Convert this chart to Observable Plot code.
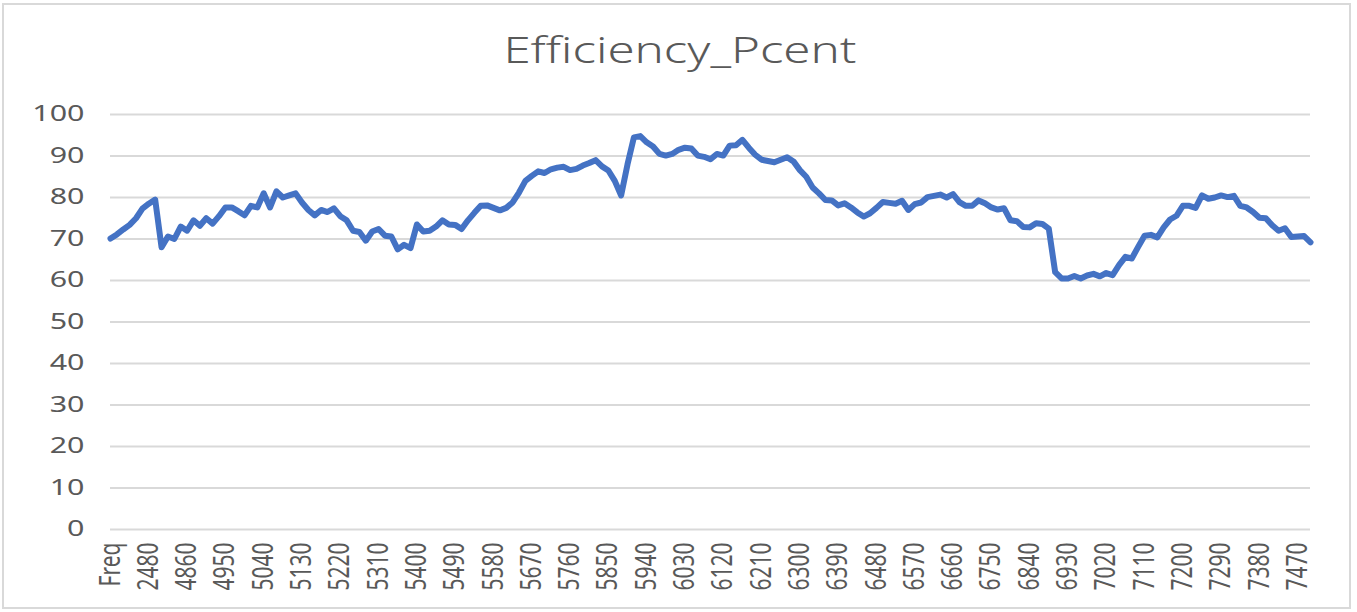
<!DOCTYPE html>
<html>
<head>
<meta charset="utf-8">
<script src="https://cdn.jsdelivr.net/npm/d3@7"></script>
<script src="https://cdn.jsdelivr.net/npm/@observablehq/plot@0.6"></script>
<style>
  html, body { margin: 0; padding: 0; background: #fff; }
  #wrap { position: relative; width: 1357px; height: 612px; overflow: hidden; font-family: "Noto Sans", sans-serif; }
  #frame { position: absolute; left: 2px; top: 3px; width: 1349px; height: 606px; border: 2px solid #d9d9d9; box-sizing: border-box; pointer-events: none; }
  #title { height: 90px; position: relative; }
  #title span { position: absolute; left: 680px; top: 27px; transform: translateX(-50%) scaleX(1.33); font-size: 37px; line-height: 44px; color: #595959; white-space: nowrap; font-weight: 300; }
  #chart svg { display: block; }
</style>
</head>
<body>
<div id="wrap">
  <div id="title"><span>Efficiency_Pcent</span></div>
  <div id="chart"></div>
  <div id="frame"></div>
</div>
<script>
const tickLabels = ["Freq","2480","4860","4950","5040","5130","5220","5310","5400","5490","5580","5670","5760","5850","5940","6030","6120","6210","6300","6390","6480","6570","6660","6750","6840","6930","7020","7110","7200","7290","7380","7470"];
const pointsPerTick = 6;
const efficiency = [
  70.1,71.1,72.3,73.4,75.0,77.3,78.5,79.5,68.0,70.6,
  70.0,73.0,72.0,74.5,73.2,75.0,73.7,75.5,77.6,77.6,
  76.7,75.7,78.0,77.6,81.0,77.6,81.5,80.0,80.5,81.0,
  78.8,77.0,75.7,77.0,76.5,77.4,75.5,74.5,72.0,71.7,
  69.6,71.8,72.4,70.8,70.6,67.5,68.6,67.8,73.5,71.8,
  72.0,73.0,74.5,73.5,73.4,72.4,74.5,76.3,78.0,78.1,
  77.5,76.9,77.5,78.8,81.2,84.0,85.2,86.3,85.9,86.8,
  87.2,87.4,86.6,86.9,87.7,88.3,89.0,87.5,86.5,84.0,
  80.5,88.0,94.5,94.8,93.3,92.3,90.5,90.1,90.5,91.5,
  92.0,91.8,90.1,89.8,89.2,90.5,90.1,92.5,92.6,93.9,
  92.0,90.3,89.1,88.8,88.5,89.1,89.7,88.7,86.6,85.0,
  82.4,81.0,79.4,79.3,78.1,78.6,77.6,76.4,75.4,76.2,
  77.5,78.9,78.7,78.5,79.2,77.0,78.4,78.8,80.1,80.4,
  80.7,80.0,80.8,78.9,78.0,78.0,79.3,78.6,77.6,77.1,
  77.4,74.5,74.3,72.9,72.8,73.8,73.6,72.5,62.0,60.5,
  60.5,61.1,60.5,61.2,61.6,61.0,61.8,61.3,63.7,65.7,
  65.3,68.1,70.8,71.0,70.4,72.8,74.7,75.6,78.0,78.0,
  77.5,80.5,79.7,80.0,80.5,80.1,80.4,78.0,77.6,76.5,
  75.1,75.0,73.3,72.0,72.6,70.5,70.6,70.7,69.2
];
const yTicks = [0,10,20,30,40,50,60,70,80,90,100];

const data = efficiency.map((v, i) => ({i, v}));
const xTicks = tickLabels.map((_, k) => k * pointsPerTick);

const chart = Plot.plot({
  width: 1357,
  height: 522,
  marginLeft: 110,
  marginRight: 47,
  marginTop: 24,
  marginBottom: 83,
  style: {fontFamily: "'Noto Sans', sans-serif", fontSize: "21px", color: "#595959", background: "transparent"},
  x: {domain: [0, efficiency.length - 1]},
  y: {domain: [0, 100]},
  marks: [
    Plot.gridY(yTicks, {stroke: "#d9d9d9", strokeOpacity: 1, strokeWidth: 2}),
    Plot.axisY(yTicks, {tickSize: 0, tickPadding: 26, label: null, fontSize: 21, fill: "#595959"}),
    Plot.axisX(xTicks, {tickSize: 0, tickPadding: 13, tickRotate: -90, label: null, fontSize: 21, fill: "#595959",
      tickFormat: d => tickLabels[d / pointsPerTick]}),
    Plot.lineY(data, {x: "i", y: "v", stroke: "#4472C4", strokeWidth: 6, strokeLinejoin: "round", strokeLinecap: "round"})
  ]
});
document.getElementById("chart").appendChild(chart);

// horizontal stretch of tick text to match the reference's wide glyphs
chart.querySelectorAll('g[aria-label="y-axis tick label"] text').forEach(t => {
  const tr = t.getAttribute("transform") || "";
  t.setAttribute("transform", tr + " scale(1.45,1)");
});
chart.querySelectorAll('g[aria-label="x-axis tick label"] text').forEach(t => {
  const tr = t.getAttribute("transform") || "";
  t.setAttribute("transform", tr + " scale(1,1.35)");
});
</script>
</body>
</html>
